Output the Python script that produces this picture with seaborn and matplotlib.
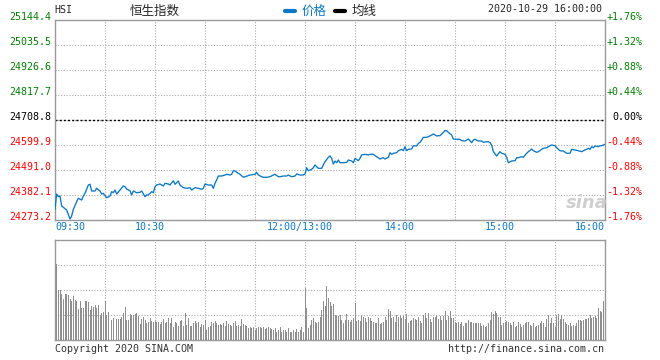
import numpy as np
import pandas as pd
import seaborn as sns
import matplotlib.pyplot as plt
from matplotlib.lines import Line2D

# minutes since 09:30 (150 = 12:00/13:00, 330 = 16:00) and index level
minute = [0, 1, 2, 3, 4, 5, 7, 9, 10, 11, 13, 14, 16, 17, 18, 20, 21, 22, 24, 25,
          27, 28, 29, 31, 33, 34, 35, 36, 37, 39, 41, 42, 43, 45, 46, 47, 49, 51, 52, 54,
          55, 56, 58, 59, 60, 61, 63, 65, 66, 68, 69, 71, 72, 74, 75, 77, 79, 81, 82, 84,
          86, 88, 89, 90, 92, 94, 95, 96, 97, 98, 100, 102, 103, 105, 106, 107, 108, 110, 111, 113,
          114, 115, 117, 120, 121, 122, 124, 125, 127, 129, 131, 132, 134, 135, 137, 139, 140, 142, 144, 145,
          147, 149, 150, 151, 152, 154, 155, 156, 158, 160, 161, 162, 164, 165, 166, 167, 168, 169, 170, 171,
          173, 175, 176, 178, 179, 180, 182, 183, 184, 186, 188, 189, 191, 192, 194, 195, 197, 198, 200, 201,
          202, 203, 205, 206, 208, 209, 210, 211, 212, 214, 215, 217, 218, 219, 220, 221, 223, 224, 226, 227,
          229, 230, 231, 233, 234, 235, 236, 238, 239, 241, 243, 244, 246, 248, 250, 251, 252, 254, 256, 257,
          259, 260, 261, 262, 263, 265, 267, 268, 270, 271, 272, 274, 276, 277, 278, 280, 281, 283, 284, 286,
          287, 289, 290, 292, 293, 295, 297, 298, 300, 301, 303, 305, 307, 309, 310, 312, 314, 316, 317, 319,
          320, 321, 322, 323, 324, 326, 327, 328, 330]
price = [24319.8, 24386.4, 24374.7, 24377.7, 24334.2, 24328.5, 24316.7, 24277.5, 24290.6, 24319.8,
         24352.9, 24367.7, 24360.3, 24377.7, 24389.5, 24425.6, 24428.7, 24399.5, 24399.5, 24411.3,
         24399.5, 24386.4, 24389.5, 24370.3, 24377.7, 24396.5, 24392.1, 24403.9, 24386.4, 24403.9,
         24421.3, 24418.2, 24408.2, 24400.8, 24382.1, 24399.5, 24392.1, 24393.8, 24399.5, 24374.7,
         24382.1, 24382.1, 24396.5, 24392.1, 24418.2, 24425.6, 24430.0, 24421.3, 24433.0, 24430.0,
         24425.6, 24444.4, 24428.7, 24443.1, 24425.6, 24413.9, 24411.3, 24413.9, 24403.9, 24413.9,
         24411.3, 24406.9, 24411.3, 24430.0, 24425.6, 24425.6, 24411.3, 24433.0, 24447.4, 24464.8,
         24464.8, 24469.2, 24472.2, 24469.2, 24472.2, 24487.9, 24486.6, 24476.6, 24472.2, 24459.2,
         24461.8, 24464.8, 24469.2, 24472.2, 24481.0, 24469.2, 24461.8, 24459.2, 24459.2, 24461.8,
         24469.2, 24472.2, 24461.8, 24461.8, 24464.8, 24464.8, 24469.2, 24461.8, 24464.8, 24473.6,
         24469.2, 24469.2, 24473.6, 24501.0, 24487.9, 24494.0, 24501.0, 24512.8, 24498.4, 24498.4,
         24512.8, 24527.1, 24546.3, 24552.0, 24541.9, 24517.1, 24530.2, 24522.8, 24534.5, 24522.8,
         24522.8, 24524.3, 24534.5, 24530.2, 24522.8, 24541.9, 24531.5, 24541.9, 24556.3, 24559.4,
         24556.3, 24559.4, 24559.4, 24553.3, 24544.6, 24538.9, 24544.6, 24538.9, 24546.3, 24566.3,
         24559.4, 24563.7, 24566.3, 24575.0, 24581.1, 24575.0, 24592.5, 24575.0, 24581.1, 24582.5,
         24596.8, 24595.5, 24607.3, 24611.6, 24621.7, 24633.4, 24633.4, 24636.0, 24643.4, 24647.8,
         24639.1, 24640.4, 24640.4, 24655.2, 24662.2, 24662.2, 24655.2, 24643.4, 24626.0, 24624.7,
         24624.7, 24618.6, 24617.3, 24626.0, 24609.9, 24621.7, 24624.7, 24617.3, 24617.3, 24611.6,
         24614.2, 24614.2, 24609.9, 24599.9, 24570.7, 24552.0, 24570.7, 24563.7, 24559.4, 24546.3,
         24522.8, 24530.2, 24531.5, 24544.6, 24544.6, 24548.9, 24546.3, 24563.7, 24570.7, 24582.5,
         24575.0, 24568.1, 24570.7, 24581.1, 24585.5, 24588.1, 24596.8, 24599.9, 24596.8, 24588.1,
         24575.0, 24573.7, 24563.7, 24563.7, 24581.1, 24578.1, 24575.0, 24570.7, 24575.0, 24581.1,
         24585.5, 24581.1, 24592.5, 24588.1, 24595.5, 24592.5, 24596.8, 24596.8, 24602.9]

# per-minute volume, panel units (top of panel = 100)
vol_am = [76, 50, 50, 46, 41, 46, 46, 45, 41, 39, 44, 40, 39, 31, 39, 32, 32, 39, 39, 38,
          30, 34, 33, 35, 32, 35, 25, 27, 28, 39, 25, 28, 29, 20, 22, 28, 21, 21, 21, 23,
          27, 33, 20, 20, 26, 25, 25, 26, 27, 24, 16, 21, 23, 20, 17, 18, 22, 19, 18, 19,
          18, 18, 16, 18, 21, 17, 18, 22, 17, 22, 13, 18, 17, 14, 19, 20, 14, 27, 15, 22,
          14, 14, 17, 19, 17, 18, 13, 16, 15, 20, 10, 13, 14, 18, 17, 19, 17, 15, 16, 15,
          17, 14, 19, 16, 15, 14, 17, 19, 14, 15, 14, 21, 16, 15, 14, 12, 13, 12, 13, 10,
          12, 13, 13, 12, 13, 11, 12, 13, 12, 11, 10, 12, 8, 10, 13, 8, 10, 10, 8, 12,
          8, 8, 10, 8, 11, 8, 10, 13, 8]
vol_pm = [52, 32, 12, 15, 20, 22, 18, 17, 18, 23, 30, 39, 34, 54, 42,
          38, 34, 36, 25, 24, 24, 25, 20, 17, 20, 26, 20, 18, 20, 22, 37, 19, 20, 19, 25,
          23, 22, 18, 23, 22, 19, 18, 17, 17, 22, 16, 17, 18, 23, 20, 31, 29, 22, 23, 18,
          25, 23, 24, 22, 24, 21, 26, 17, 19, 20, 22, 21, 20, 23, 19, 17, 25, 27, 22, 27,
          21, 18, 23, 23, 25, 21, 24, 20, 24, 29, 20, 24, 29, 22, 22, 18, 17, 18, 16, 18,
          14, 17, 17, 20, 18, 18, 17, 17, 17, 17, 17, 14, 15, 13, 14, 17, 20, 28, 26, 29,
          27, 23, 23, 15, 17, 18, 19, 18, 17, 15, 18, 13, 14, 18, 16, 13, 15, 17, 18, 18,
          15, 14, 17, 13, 14, 15, 17, 19, 17, 13, 21, 25, 17, 22, 17, 13, 25, 26, 21, 25,
          21, 18, 16, 15, 17, 14, 15, 14, 17, 20, 20, 19, 20, 21, 21, 22, 25, 22, 23, 24,
          22, 32, 29, 28, 39]

prev_close = 24708.8
price_ticks = [25144.4, 25035.5, 24926.6, 24817.7, 24708.8, 24599.9, 24491.0, 24382.1, 24273.2]
pct_labels = ["+1.76%", "+1.32%", "+0.88%", "+0.44%", "0.00%", "-0.44%", "-0.88%", "-1.32%", "-1.76%"]
time_ticks = [0, 60, 150, 210, 270, 330]
time_labels = ["09:30", "10:30", "12:00/13:00", "14:00", "15:00", "16:00"]

BLUE = "#0a78c8"
GREEN = "#008000"
RED = "#ff0000"
GRAY = "#999999"

sns.set_style("white")
plt.rcParams['font.family'] = ['DejaVu Sans Mono', 'Noto Sans CJK SC']

W, H = 660, 360
fig = plt.figure(figsize=(W / 100, H / 100), dpi=100)
ax = fig.add_axes([55 / W, 140 / H, 550 / W, 200 / H])
axv = fig.add_axes([55 / W, 20 / H, 550 / W, 100 / H])


def frame(a):
    for s in a.spines.values():
        s.set_color(GRAY)
        s.set_linewidth(1)
    a.set_xticks(np.arange(0, 331, 30))
    a.grid(True, color="#aaaaaa", linestyle=(0, (1, 1.5)), linewidth=0.8)
    a.tick_params(length=0, labelbottom=False, labelleft=False)
    a.set_xlabel("")
    a.set_ylabel("")
    a.set_xlim(0, 330)


df = pd.DataFrame({"minute": minute, "price": price})
sns.lineplot(data=df, x="minute", y="price", ax=ax, color=BLUE, linewidth=0.95,
             estimator=None, sort=False, zorder=3)
frame(ax)
ax.set_ylim(price_ticks[-1], price_ticks[0])
ax.set_yticks(price_ticks)
ax.axhline(prev_close, color="black", linestyle=(0, (1.5, 1.5)), linewidth=1, zorder=2)

for v, lab in zip(price_ticks, pct_labels):
    c = GREEN if v > prev_close else ("black" if v == prev_close else RED)
    ax.annotate(f"{v:.1f}", xy=(0, v), xycoords=("axes fraction", "data"), xytext=(-2.5, 2),
                textcoords="offset points", ha="right", va="center", color=c, fontsize=7.2)
    ax.annotate(lab, xy=(1, v), xycoords=("axes fraction", "data"), xytext=(27, 2),
                textcoords="offset points", ha="right", va="center", color=c, fontsize=7.2)

for m, lab in zip(time_ticks, time_labels):
    if m == 0:
        ha, dx = "left", 0
    elif m == 330:
        ha, dx = "right", -0.5
    else:
        ha, dx = "center", -3.6
    ax.annotate(lab, xy=(m, 0), xycoords=("data", "axes fraction"), xytext=(dx, -5.2),
                textcoords="offset points", ha=ha, va="center", color=BLUE, fontsize=7.2)

# volume panel
vol = vol_am + vol_pm
vdf = pd.DataFrame({"minute": np.arange(1, len(vol) + 1), "vol": vol})
sns.barplot(data=vdf, x="minute", y="vol", native_scale=True, ax=axv, color="#8f8f8f",
            width=0.6, errorbar=None, linewidth=0, saturation=1, zorder=3, antialiased=False)
frame(axv)
axv.set_ylim(0, 100)
axv.set_yticks([25, 50, 75])


def px(x, y):
    return x / W, 1 - y / H


# header
fig.text(*px(54, 10), "HSI", ha="left", va="center", fontsize=7.2)
fig.text(*px(155, 11), "恒生指数", ha="center", va="center", fontsize=9,
         family=["Noto Sans CJK SC", "DejaVu Sans"])
fig.add_artist(Line2D([285 / W, 295 / W], [1 - 11 / H] * 2, color=BLUE, linewidth=3))
fig.text(*px(302, 11), "价格", ha="left", va="center", fontsize=9, color=BLUE,
         family=["Noto Sans CJK SC", "DejaVu Sans"])
fig.add_artist(Line2D([335 / W, 345 / W], [1 - 11 / H] * 2, color="black", linewidth=3))
fig.text(*px(352, 11), "均线", ha="left", va="center", fontsize=9,
         family=["Noto Sans CJK SC", "DejaVu Sans"])
fig.text(*px(602, 9), "2020-10-29 16:00:00", ha="right", va="center", fontsize=7.2)

# watermark
fig.text(*px(587, 203), "sina", ha="center", va="center", fontsize=13, color="#cfcfcf",
         style="italic", weight="bold", family=["DejaVu Sans"])

# footer
fig.text(*px(55, 349), "Copyright 2020 SINA.COM", ha="left", va="center", fontsize=7.2, color="#333333")
fig.text(*px(604, 349), "http://finance.sina.com.cn", ha="right", va="center", fontsize=7.2, color="#333333")

fig.savefig("out.png", dpi=100)
